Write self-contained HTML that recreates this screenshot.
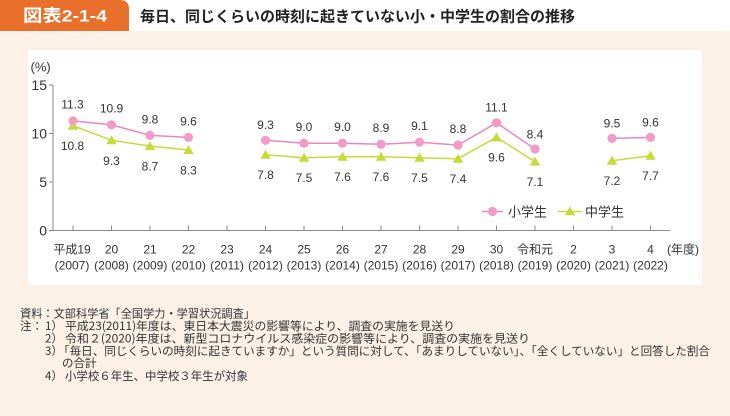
<!DOCTYPE html>
<html lang="ja">
<head>
<meta charset="utf-8">
<style>
  html,body{margin:0;padding:0;background:#fff;}
  svg{display:block;}
  text{font-family:"Liberation Sans","Noto Sans CJK JP",sans-serif;fill:#333;}
  .jp{font-family:"Noto Sans CJK JP","Liberation Sans",sans-serif;}
</style>
</head>
<body>
<svg width="730" height="416" viewBox="0 0 730 416" xmlns="http://www.w3.org/2000/svg">
  <!-- backgrounds -->
  <rect x="0" y="0" width="730" height="416" fill="#ffffff"/>
  <rect x="0" y="31" width="730" height="385" fill="#FCF1E7"/>
  <rect x="28" y="50" width="674" height="235" fill="#ffffff"/>
  <!-- header tab -->
  <path d="M0 0 H120 Q129 0 129 9 V31 H0 Z" fill="#E8702A"/>
  <text x="23" y="21.5" font-size="17" font-weight="bold" style="fill:#fff" textLength="84" lengthAdjust="spacingAndGlyphs">図表2-1-4</text>
  <text class="jp" x="140" y="21.5" font-size="15" font-weight="bold" style="fill:#222" textLength="435" lengthAdjust="spacingAndGlyphs">毎日、同じくらいの時刻に起きていない小・中学生の割合の推移</text>

  <!-- axes -->
  <g stroke="#8a8a8a" stroke-width="1" fill="none">
    <line x1="53" y1="85" x2="53" y2="230.5"/>
    <line x1="53" y1="230.5" x2="670" y2="230.5"/>
    <line x1="49" y1="85" x2="53" y2="85"/>
    <line x1="49" y1="133.5" x2="53" y2="133.5"/>
    <line x1="49" y1="182" x2="53" y2="182"/>
    <line x1="49" y1="230.5" x2="53" y2="230.5"/>
    <!-- x ticks -->
    <line x1="73" y1="225.5" x2="73" y2="230.5"/>
    <line x1="111.5" y1="225.5" x2="111.5" y2="230.5"/>
    <line x1="150" y1="225.5" x2="150" y2="230.5"/>
    <line x1="188.5" y1="225.5" x2="188.5" y2="230.5"/>
    <line x1="227" y1="225.5" x2="227" y2="230.5"/>
    <line x1="265.5" y1="225.5" x2="265.5" y2="230.5"/>
    <line x1="304" y1="225.5" x2="304" y2="230.5"/>
    <line x1="342.5" y1="225.5" x2="342.5" y2="230.5"/>
    <line x1="381" y1="225.5" x2="381" y2="230.5"/>
    <line x1="419.5" y1="225.5" x2="419.5" y2="230.5"/>
    <line x1="458" y1="225.5" x2="458" y2="230.5"/>
    <line x1="496.5" y1="225.5" x2="496.5" y2="230.5"/>
    <line x1="535" y1="225.5" x2="535" y2="230.5"/>
    <line x1="573.5" y1="225.5" x2="573.5" y2="230.5"/>
    <line x1="612" y1="225.5" x2="612" y2="230.5"/>
    <line x1="650.5" y1="225.5" x2="650.5" y2="230.5"/>
  </g>

  <!-- y labels -->
  <g font-size="14" text-anchor="end">
    <text x="47" y="90">15</text>
    <text x="47" y="138.5">10</text>
    <text x="47" y="187">5</text>
    <text x="47" y="235.5">0</text>
  </g>
  <text x="30.5" y="71.5" font-size="13">(%)</text>

  <!-- x labels -->
  <g font-size="12" text-anchor="middle">
    <text x="72" y="253.5">平成19</text>
    <text x="111.5" y="253.5">20</text>
    <text x="150" y="253.5">21</text>
    <text x="188.5" y="253.5">22</text>
    <text x="227" y="253.5">23</text>
    <text x="265.5" y="253.5">24</text>
    <text x="304" y="253.5">25</text>
    <text x="342.5" y="253.5">26</text>
    <text x="381" y="253.5">27</text>
    <text x="419.5" y="253.5">28</text>
    <text x="458" y="253.5">29</text>
    <text x="496.5" y="253.5">30</text>
    <text x="535" y="253.5">令和元</text>
    <text x="573.5" y="253.5">2</text>
    <text x="612" y="253.5">3</text>
    <text x="650.5" y="253.5">4</text>

    <text x="72" y="269.5">(2007)</text>
    <text x="111.5" y="269.5">(2008)</text>
    <text x="150" y="269.5">(2009)</text>
    <text x="188.5" y="269.5">(2010)</text>
    <text x="227" y="269.5">(2011)</text>
    <text x="265.5" y="269.5">(2012)</text>
    <text x="304" y="269.5">(2013)</text>
    <text x="342.5" y="269.5">(2014)</text>
    <text x="381" y="269.5">(2015)</text>
    <text x="419.5" y="269.5">(2016)</text>
    <text x="458" y="269.5">(2017)</text>
    <text x="496.5" y="269.5">(2018)</text>
    <text x="535" y="269.5">(2019)</text>
    <text x="573.5" y="269.5">(2020)</text>
    <text x="612" y="269.5">(2021)</text>
    <text x="650.5" y="269.5">(2022)</text>
  </g>
  <text x="667" y="253.5" font-size="12">(年度)</text>

  <!-- green series (中学生) -->
  <g stroke="#C6DA3A" stroke-width="1.5" fill="none">
    <polyline points="73,125.7 111.5,140.3 150,146.1 188.5,150"/>
    <polyline points="265.5,154.8 304,157.75 342.5,156.8 381,156.8 419.5,157.75 458,158.7 496.5,137.4 535,161.6"/>
    <polyline points="612,160.7 650.5,155.8"/>
  </g>
  <g fill="#C6DA3A">
    <path d="M73 120.7 l5.2 9 h-10.4 z"/>
    <path d="M111.5 135.3 l5.2 9 h-10.4 z"/>
    <path d="M150 141.1 l5.2 9 h-10.4 z"/>
    <path d="M188.5 145 l5.2 9 h-10.4 z"/>
    <path d="M265.5 149.8 l5.2 9 h-10.4 z"/>
    <path d="M304 152.75 l5.2 9 h-10.4 z"/>
    <path d="M342.5 151.8 l5.2 9 h-10.4 z"/>
    <path d="M381 151.8 l5.2 9 h-10.4 z"/>
    <path d="M419.5 152.75 l5.2 9 h-10.4 z"/>
    <path d="M458 153.7 l5.2 9 h-10.4 z"/>
    <path d="M496.5 132.4 l5.2 9 h-10.4 z"/>
    <path d="M535 156.6 l5.2 9 h-10.4 z"/>
    <path d="M612 155.7 l5.2 9 h-10.4 z"/>
    <path d="M650.5 150.8 l5.2 9 h-10.4 z"/>
  </g>

  <!-- pink series (小学生) -->
  <g stroke="#EC86BA" stroke-width="1.5" fill="none">
    <polyline points="73,120.9 111.5,124.8 150,135.4 188.5,137.4"/>
    <polyline points="265.5,140.3 304,143.2 342.5,143.2 381,144.2 419.5,142.2 458,145.1 496.5,122.8 535,149"/>
    <polyline points="612,138.4 650.5,137.4"/>
  </g>
  <g fill="#F29BC6">
    <circle cx="73" cy="120.9" r="4.6"/>
    <circle cx="111.5" cy="124.8" r="4.6"/>
    <circle cx="150" cy="135.4" r="4.6"/>
    <circle cx="188.5" cy="137.4" r="4.6"/>
    <circle cx="265.5" cy="140.3" r="4.6"/>
    <circle cx="304" cy="143.2" r="4.6"/>
    <circle cx="342.5" cy="143.2" r="4.6"/>
    <circle cx="381" cy="144.2" r="4.6"/>
    <circle cx="419.5" cy="142.2" r="4.6"/>
    <circle cx="458" cy="145.1" r="4.6"/>
    <circle cx="496.5" cy="122.8" r="4.6"/>
    <circle cx="535" cy="149" r="4.6"/>
    <circle cx="612" cy="138.4" r="4.6"/>
    <circle cx="650.5" cy="137.4" r="4.6"/>
  </g>

  <!-- pink labels -->
  <g font-size="12" text-anchor="middle">
    <text x="72.5" y="108.5">11.3</text>
    <text x="111.5" y="112.5">10.9</text>
    <text x="150" y="123.5">9.8</text>
    <text x="188.5" y="125.5">9.6</text>
    <text x="265.5" y="129">9.3</text>
    <text x="304" y="131">9.0</text>
    <text x="342.5" y="131">9.0</text>
    <text x="381" y="132">8.9</text>
    <text x="419.5" y="130">9.1</text>
    <text x="458" y="133">8.8</text>
    <text x="496.5" y="111.5">11.1</text>
    <text x="535" y="138.5">8.4</text>
    <text x="612" y="127.5">9.5</text>
    <text x="650.5" y="126.5">9.6</text>
  </g>
  <!-- green labels -->
  <g font-size="12" text-anchor="middle">
    <text x="72.5" y="150">10.8</text>
    <text x="111.5" y="165">9.3</text>
    <text x="150" y="170.5">8.7</text>
    <text x="188.5" y="174.5">8.3</text>
    <text x="265.5" y="179">7.8</text>
    <text x="304" y="182">7.5</text>
    <text x="342.5" y="181">7.6</text>
    <text x="381" y="181">7.6</text>
    <text x="419.5" y="182">7.5</text>
    <text x="458" y="183">7.4</text>
    <text x="496.5" y="161.5">9.6</text>
    <text x="535" y="186">7.1</text>
    <text x="612" y="185">7.2</text>
    <text x="650.5" y="180">7.7</text>
  </g>

  <!-- legend -->
  <line x1="482" y1="211.5" x2="503" y2="211.5" stroke="#EC86BA" stroke-width="1.5"/>
  <circle cx="492.5" cy="211.5" r="4.6" fill="#F29BC6"/>
  <text class="jp" x="508" y="216.5" font-size="13">小学生</text>
  <line x1="558" y1="211.5" x2="582" y2="211.5" stroke="#C6DA3A" stroke-width="1.5"/>
  <path d="M570 206.3 l5.2 9 h-10.4 z" fill="#C6DA3A"/>
  <text class="jp" x="585" y="216.5" font-size="13">中学生</text>

  <!-- notes -->
  <g class="jp" font-size="11.5">
    <text class="jp" x="20" y="317.5" textLength="235" lengthAdjust="spacingAndGlyphs">資料：文部科学省「全国学力・学習状況調査」</text>
    <text class="jp" x="20" y="330.2">注：</text>
    <text class="jp" x="45" y="330.2">1）</text>
    <text class="jp" x="65" y="330.2" textLength="390" lengthAdjust="spacingAndGlyphs">平成23(2011)年度は、東日本大震災の影響等により、調査の実施を見送り</text>
    <text class="jp" x="45" y="342.5">2）</text>
    <text class="jp" x="65" y="342.5" textLength="465" lengthAdjust="spacingAndGlyphs">令和２(2020)年度は、新型コロナウイルス感染症の影響等により、調査の実施を見送り</text>
    <text class="jp" x="45" y="354.9">3）</text>
    <text class="jp" x="58" y="354.9" textLength="652" lengthAdjust="spacingAndGlyphs">「毎日、同じくらいの時刻に起きていますか」という質問に対して、「あまりしていない」、「全くしていない」と回答した割合</text>
    <text class="jp" x="62" y="367.2">の合計</text>
    <text class="jp" x="45" y="380.2">4）</text>
    <text class="jp" x="65" y="380.2" textLength="183" lengthAdjust="spacingAndGlyphs">小学校６年生、中学校３年生が対象</text>
  </g>
</svg>
</body>
</html>
